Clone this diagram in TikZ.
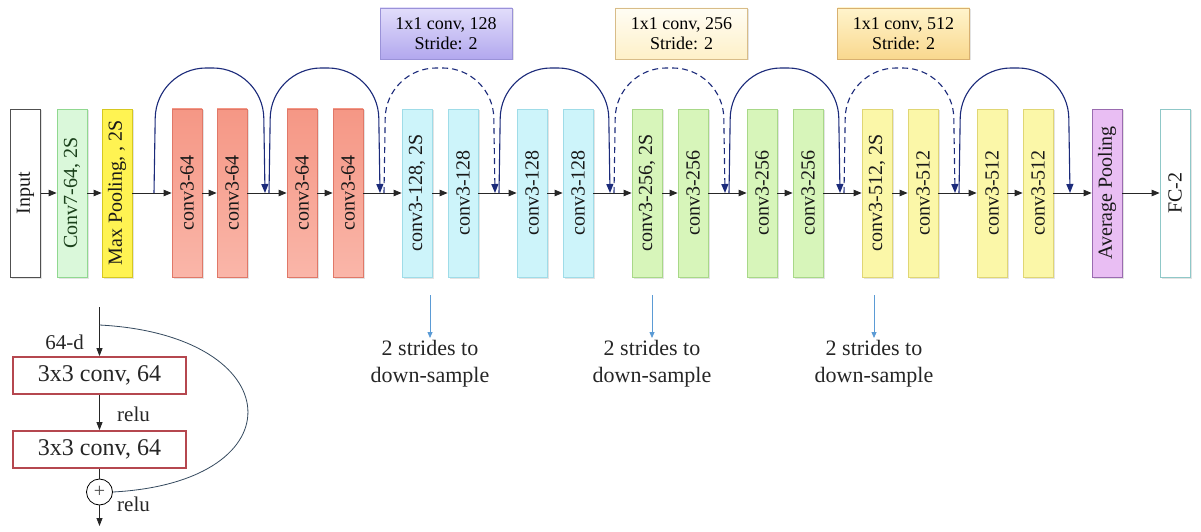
\documentclass[tikz,border=0pt]{standalone}
\usepackage{fontspec}
\setmainfont{Liberation Serif}
\usepackage{graphicx}
\usetikzlibrary{arrows.meta,shadows,calc}
\definecolor{inB}{HTML}{505050}
\definecolor{cvF}{HTML}{DAF8DA}
\definecolor{cvB}{HTML}{90D890}
\definecolor{cvT}{HTML}{1A401A}
\definecolor{mpF}{HTML}{FFF352}
\definecolor{mpB}{HTML}{D6C820}
\definecolor{rdT}{HTML}{F59785}
\definecolor{rdD}{HTML}{FAB6A9}
\definecolor{rdB}{HTML}{E07868}
\definecolor{cyF}{HTML}{CDF4FA}
\definecolor{cyB}{HTML}{9FDCE8}
\definecolor{grF}{HTML}{D7F5BA}
\definecolor{grB}{HTML}{A8D888}
\definecolor{ylF}{HTML}{FBF7A8}
\definecolor{ylB}{HTML}{E0D674}
\definecolor{avF}{HTML}{E9BEF3}
\definecolor{avB}{HTML}{9A6BB0}
\definecolor{fcB}{HTML}{8FC8C8}
\definecolor{navy}{HTML}{1B2A7A}
\definecolor{pbT}{HTML}{E2DDFB}
\definecolor{pbD}{HTML}{B2A8EE}
\definecolor{pbB}{HTML}{9A92D8}
\definecolor{cbT}{HTML}{FFFDF4}
\definecolor{cbD}{HTML}{FEF0C8}
\definecolor{cbB}{HTML}{D8BC88}
\definecolor{obT}{HTML}{FFF4CC}
\definecolor{obD}{HTML}{F9D88E}
\definecolor{obB}{HTML}{D8B070}
\definecolor{blA}{HTML}{5B9BD5}
\definecolor{rbB}{HTML}{B5474F}
\definecolor{skC}{HTML}{34495E}
\begin{document}
\begin{tikzpicture}[x=1pt,y=-1pt,
  blk/.style={draw, line width=0.8pt, minimum width=30pt, minimum height=168pt, inner sep=0pt,
    font=\fontsize{20}{22}\selectfont, text=black!90,
    drop shadow={shadow xshift=1.5pt,shadow yshift=-1.5pt,opacity=0.22}},
  s64/.style={blk, draw=rdB, top color=rdT, bottom color=rdD},
  s128/.style={blk, draw=cyB, fill=cyF},
  s256/.style={blk, draw=grB, fill=grF},
  s512/.style={blk, draw=ylB, fill=ylF},
  flow/.style={-{Triangle[length=8pt,width=6.5pt]}, line width=0.8pt, black!85},
  arcst/.style={navy, line width=1.1pt, rounded corners=50pt, -{Triangle[length=9pt,width=7pt]}},
  arcds/.style={arcst, dash pattern=on 6pt off 4pt},
  topbox/.style={draw, line width=0.8pt, minimum width=132pt, minimum height=51pt, inner sep=0pt,
    align=center, font=\fontsize{18}{20}\selectfont,
    drop shadow={shadow xshift=1.5pt,shadow yshift=-1.5pt,opacity=0.22}},
  dslab/.style={align=center, inner sep=2pt, font=\fontsize{22}{27}\selectfont, text=black!85},
  blarr/.style={blA, line width=0.8pt, -{Triangle[length=6pt,width=5pt]}},
  rbox/.style={draw=rbB, line width=1.8pt, minimum width=173pt, minimum height=37pt, inner sep=0pt,
    font=\fontsize{24}{26}\selectfont, text=black!85},
  rarr/.style={line width=0.8pt, black!85, -{Triangle[length=8pt,width=6pt]}},
  rlab/.style={font=\fontsize{21}{24}\selectfont, text=black!85, inner sep=1pt}
]
\useasboundingbox (0,0) rectangle (1201,532);
\fill[white] (0,0) rectangle (1201,532);

% first blocks
\node[blk, draw=inB, fill=white] (in) at (25.5,193) {\rotatebox{90}{Input}};
\node[blk, draw=cvB, fill=cvF, text=cvT] (cv) at (72,193) {\rotatebox{90}{Conv7-64, 2S}};
\node[blk, draw=mpB, fill=mpF] (mp) at (117,193) {\rotatebox{90}{Max Pooling, , 2S}};

% conv blocks
\foreach \x/\nm/\st/\tx in {
  187/b1/s64/conv3-64, 232/b2/s64/conv3-64, 302/b3/s64/conv3-64, 348/b4/s64/conv3-64,
  417/b5/s128/{conv3-128, 2S}, 463/b6/s128/conv3-128, 532/b7/s128/conv3-128, 578/b8/s128/conv3-128,
  647/b9/s256/{conv3-256, 2S}, 693/b10/s256/conv3-256, 762/b11/s256/conv3-256, 808/b12/s256/conv3-256,
  877/b13/s512/{conv3-512, 2S}, 923/b14/s512/conv3-512, 992/b15/s512/conv3-512, 1038/b16/s512/conv3-512}
  {\node[\st] (\nm) at (\x,193) {\rotatebox{90}{\tx}};}

\node[blk, draw=avB, fill=avF] (avg) at (1107,193) {\rotatebox{90}{Average Pooling}};
\node[blk, draw=fcB, fill=white] (fc) at (1175,193) {\rotatebox{90}{FC-2}};

% main flow
\foreach \a/\b in {in/cv, cv/mp, mp/b1, b1/b2, b2/b3, b3/b4, b4/b5, b5/b6, b6/b7, b7/b8,
  b8/b9, b9/b10, b10/b11, b11/b12, b12/b13, b13/b14, b14/b15, b15/b16, b16/avg, avg/fc}
  {\draw[flow] (\a) -- (\b);}

% junction coordinates
\foreach \k in {0,...,8} {\coordinate (j\k) at ({152+115*\k},193);}

% skip arcs
\foreach \k/\n in {0/1,1/2,3/4,5/6,7/8}
  {\draw[arcst] ($(j\k)+(2,0)$) -- ($(j\k)+(4,-125)$) -- ($(j\n)+(-4,-125)$) -- ($(j\n)+(-2,0)$);}
\foreach \k/\n in {2/3,4/5,6/7}
  {\draw[arcds] ($(j\k)+(2,0)$) -- ($(j\k)+(4,-125)$) -- ($(j\n)+(-4,-125)$) -- ($(j\n)+(-2,0)$);}

% top boxes
\node[topbox, draw=pbB, top color=pbT, bottom color=pbD] (p128) at (446,33.5) {1x1 conv, 128\\Stride: 2};
\node[topbox, draw=cbB, top color=cbT, bottom color=cbD] (p256) at (681.5,33.5) {1x1 conv, 256\\Stride: 2};
\node[topbox, draw=obB, top color=obT, bottom color=obD] (p512) at (903.5,33.5) {1x1 conv, 512\\Stride: 2};

% down-sample notes
\foreach \x/\i in {430/1, 652/2, 874/3} {
  \coordinate (da\i) at (\x,295);
  \node[dslab, anchor=north] (ds\i) at (\x,338) {2 strides to\\down-sample};
  \draw[blarr] (da\i) -- (ds\i.north);
}

% residual block illustration
\coordinate (rin) at (99.5,307);
\coordinate (rsp) at (99.5,325);
\node[rbox] (r1) at (99.5,375.5) {3x3 conv, 64};
\node[rbox] (r2) at (99.5,449.5) {3x3 conv, 64};
\node[circle, draw, line width=0.8pt, minimum size=26pt, inner sep=0pt,
  font=\fontsize{20}{20}\selectfont, text=black!70] (plus) at (99.5,492) {+};
\coordinate (rout) at (99.5,526);
\draw[rarr] (rin) -- (r1);
\draw[rarr] (r1) -- (r2);
\draw[line width=0.8pt, black!85] (r2) -- (plus);
\draw[rarr] (plus) -- (rout);
\draw[skC, line width=0.8pt] (rsp) .. controls (290,335) and (300,482) .. (plus.east);
\node[rlab, anchor=east] (d64) at (85,342) {64-d};
\node[rlab, anchor=west] (relu1) at (116,414) {relu};
\node[rlab, anchor=west] (relu2) at (116,504) {relu};
\end{tikzpicture}
\end{document}
